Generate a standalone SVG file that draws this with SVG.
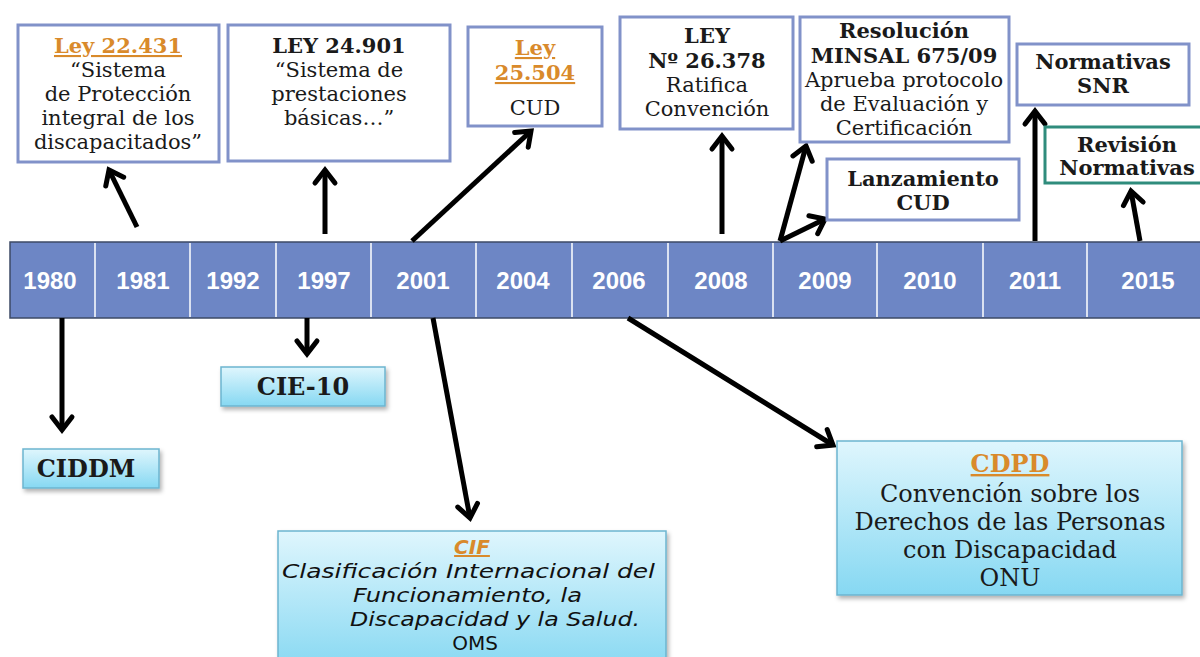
<svg xmlns="http://www.w3.org/2000/svg" width="1200" height="657" viewBox="0 0 1200 657">
<defs>
<linearGradient id="cyan" x1="0" y1="0" x2="0" y2="1">
<stop offset="0" stop-color="#dff6fd"/>
<stop offset="1" stop-color="#86d8f2"/>
</linearGradient>
<filter id="sh" x="-10%" y="-10%" width="125%" height="130%">
<feDropShadow dx="2" dy="3" stdDeviation="2" flood-color="#000" flood-opacity="0.3"/>
</filter>
<marker id="ah" markerUnits="userSpaceOnUse" viewBox="-18 -14 24 28" refX="0" refY="0" markerWidth="24" markerHeight="28" orient="auto">
<path d="M-13,-10 L0,0 L-13,10" fill="none" stroke="#000" stroke-width="5" stroke-linecap="round" stroke-linejoin="miter"/>
</marker>
</defs>
<style>
.tb{fill:#fff;stroke:#8192c9;stroke-width:3}
.tg{fill:#fff;stroke:#2f8c7c;stroke-width:3}
.bb{fill:url(#cyan);stroke:#6cb5cf;stroke-width:1.5;filter:url(#sh)}
.s{font-family:"DejaVu Serif","Liberation Serif",serif;font-size:21px;fill:#1a1a1a;text-anchor:middle}
.b{font-weight:bold}
.yr{font-family:"Liberation Sans",Arial,sans-serif;font-size:24px;font-weight:bold;fill:#fff;text-anchor:middle}
.v{font-family:"DejaVu Sans",Verdana,sans-serif;font-size:20px;fill:#111;font-style:italic}
.o{fill:#d98a2b;font-weight:bold;text-decoration:underline}
.c{stroke:#000;stroke-width:5;fill:none;marker-end:url(#ah)}
.dv{stroke:#fff;stroke-width:1.5}
</style>
<rect width="1200" height="657" fill="#fff"/>

<g id="timeline">
<rect x="10" y="242" width="1192" height="76" fill="#6d86c5" stroke="#3d4a66" stroke-width="1.5"/>
<g class="dv">
<line x1="95" y1="243" x2="95" y2="317"/>
<line x1="190" y1="243" x2="190" y2="317"/>
<line x1="276" y1="243" x2="276" y2="317"/>
<line x1="371" y1="243" x2="371" y2="317"/>
<line x1="476" y1="243" x2="476" y2="317"/>
<line x1="572" y1="243" x2="572" y2="317"/>
<line x1="668" y1="243" x2="668" y2="317"/>
<line x1="773" y1="243" x2="773" y2="317"/>
<line x1="877" y1="243" x2="877" y2="317"/>
<line x1="983" y1="243" x2="983" y2="317"/>
<line x1="1087" y1="243" x2="1087" y2="317"/>
</g>
<text class="yr" x="50" y="289">1980</text>
<text class="yr" x="143" y="289">1981</text>
<text class="yr" x="233" y="289">1992</text>
<text class="yr" x="324" y="289">1997</text>
<text class="yr" x="423" y="289">2001</text>
<text class="yr" x="523" y="289">2004</text>
<text class="yr" x="619" y="289">2006</text>
<text class="yr" x="721" y="289">2008</text>
<text class="yr" x="825" y="289">2009</text>
<text class="yr" x="930" y="289">2010</text>
<text class="yr" x="1035" y="289">2011</text>
<text class="yr" x="1148" y="289">2015</text>
</g>

<g id="connectors">
<line class="c" x1="137" y1="227" x2="109" y2="170"/>
<line class="c" x1="325" y1="234" x2="325" y2="170"/>
<line class="c" x1="412" y1="241" x2="531" y2="131"/>
<line class="c" x1="722" y1="234" x2="722" y2="136"/>
<line class="c" x1="780" y1="241" x2="806" y2="146"/>
<line class="c" x1="780" y1="241" x2="825" y2="219"/>
<line class="c" x1="1035" y1="241" x2="1035" y2="111"/>
<line class="c" x1="1140" y1="241" x2="1131" y2="191"/>
<line class="c" x1="62" y1="318" x2="62" y2="430"/>
<line class="c" x1="307" y1="318" x2="307" y2="354"/>
<line class="c" x1="433" y1="318" x2="470" y2="518"/>
<line class="c" x1="628" y1="318" x2="833" y2="445"/>
</g>

<g id="ley22431">
<rect class="tb" x="18" y="25" width="201" height="137"/>
<text class="s o" x="118" y="53">Ley 22.431</text>
<text class="s" x="118" y="77">“Sistema</text>
<text class="s" x="118" y="101">de Protección</text>
<text class="s" x="118" y="125">integral de los</text>
<text class="s" x="118" y="149">discapacitados”</text>
</g>

<g id="ley24901">
<rect class="tb" x="228" y="25" width="222" height="136"/>
<text class="s b" x="339" y="53">LEY 24.901</text>
<text class="s" x="339" y="77">“Sistema de</text>
<text class="s" x="339" y="101">prestaciones</text>
<text class="s" x="339" y="125">básicas…”</text>
</g>

<g id="ley25504">
<rect class="tb" x="468" y="27" width="134" height="99"/>
<text class="s o" x="535" y="55">Ley</text>
<text class="s o" x="535" y="80">25.504</text>
<text class="s" x="535" y="115">CUD</text>
</g>

<g id="ley26378">
<rect class="tb" x="620" y="17" width="173" height="112"/>
<text class="s b" x="707" y="43">LEY</text>
<text class="s b" x="707" y="68">Nº 26.378</text>
<text class="s" x="707" y="92">Ratifica</text>
<text class="s" x="707" y="116">Convención</text>
</g>

<g id="resolucion">
<rect class="tb" x="800" y="17" width="209" height="125"/>
<text class="s b" x="904" y="38">Resolución</text>
<text class="s b" x="904" y="63">MINSAL 675/09</text>
<text class="s" x="904" y="87">Aprueba protocolo</text>
<text class="s" x="904" y="111">de Evaluación y</text>
<text class="s" x="904" y="135">Certificación</text>
</g>

<g id="lanzamiento">
<rect class="tb" x="827" y="159" width="192" height="61"/>
<text class="s b" x="923" y="186">Lanzamiento</text>
<text class="s b" x="923" y="210">CUD</text>
</g>

<g id="snr">
<rect class="tb" x="1017" y="44" width="172" height="61"/>
<text class="s b" x="1103" y="69">Normativas</text>
<text class="s b" x="1103" y="93">SNR</text>
</g>

<g id="revision">
<rect class="tg" x="1045" y="127" width="160" height="56"/>
<text class="s b" x="1127" y="152">Revisión</text>
<text class="s b" x="1127" y="175">Normativas</text>
</g>

<g id="ciddm">
<rect class="bb" x="23" y="449" width="136" height="39"/>
<text class="s b" x="86" y="477" style="font-size:24px">CIDDM</text>
</g>

<g id="cie10">
<rect class="bb" x="221" y="367" width="164" height="39"/>
<text class="s b" x="303" y="395" style="font-size:24px">CIE-10</text>
</g>

<g id="cif">
<rect class="bb" x="278" y="531" width="388" height="140"/>
<text class="v o" x="472" y="554" text-anchor="middle">CIF</text>
<text class="v" x="282" y="578" textLength="373" lengthAdjust="spacingAndGlyphs">Clasificación Internacional del</text>
<text class="v" x="353" y="602" textLength="229" lengthAdjust="spacingAndGlyphs">Funcionamiento, la</text>
<text class="v" x="350" y="626" textLength="290" lengthAdjust="spacingAndGlyphs">Discapacidad y la Salud.</text>
<text class="v" x="475" y="650" text-anchor="middle" style="font-style:normal">OMS</text>
</g>

<g id="cdpd">
<rect class="bb" x="837" y="441" width="345" height="154"/>
<text class="s o" x="1010" y="472" style="font-size:24px">CDPD</text>
<text class="s" x="1010" y="502" style="font-size:24px">Convención sobre los</text>
<text class="s" x="1010" y="530" style="font-size:24px">Derechos de las Personas</text>
<text class="s" x="1010" y="558" style="font-size:24px">con Discapacidad</text>
<text class="s" x="1010" y="586" style="font-size:24px">ONU</text>
</g>
</svg>
